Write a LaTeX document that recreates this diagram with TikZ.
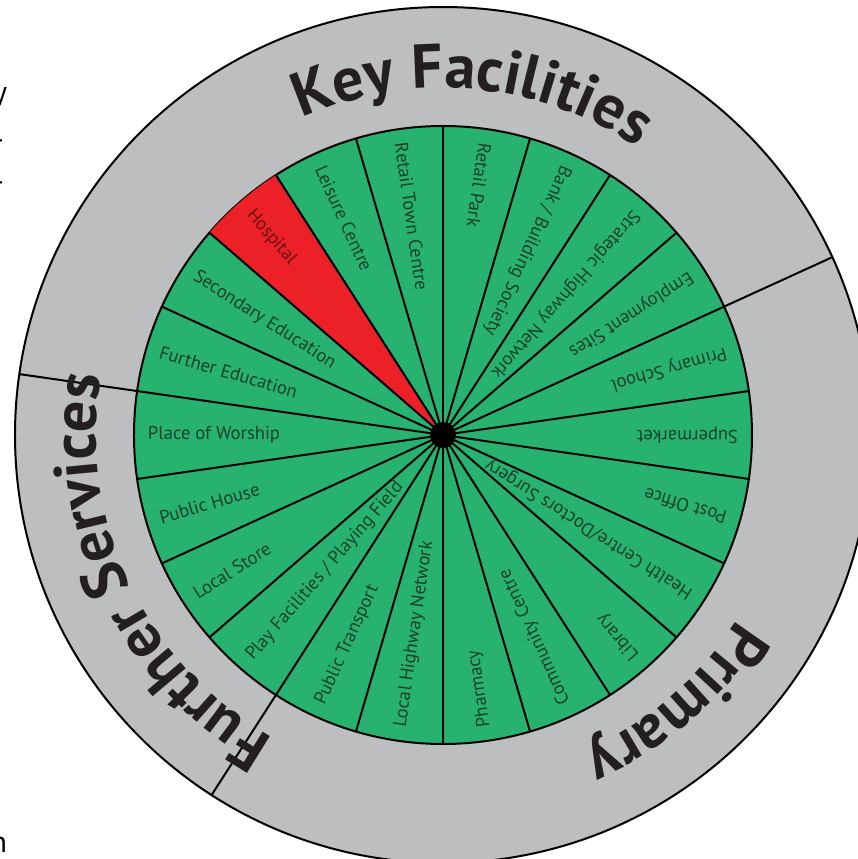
\documentclass[tikz,border=0pt]{standalone}
\usepackage{fontspec}
\setmainfont{PT Sans}
\usetikzlibrary{decorations.text}

\definecolor{ringgrey}{RGB}{189,190,192}
\definecolor{wedgegreen}{RGB}{39,179,111}
\definecolor{wedgered}{RGB}{236,32,39}
\definecolor{inkgreen}{RGB}{24,64,40}
\definecolor{inkred}{RGB}{105,20,22}
\definecolor{titleink}{RGB}{35,31,32}

\newcommand{\titlefont}{\bfseries\fontsize{31}{31}\selectfont}

\begin{document}
\begin{tikzpicture}[x=0.5pt, y=0.5pt, line width=1pt,
    lbl/.style = {anchor=west, inner sep=0pt, rotate=#1+180, text=inkgreen, font=\fontsize{9.3}{9.3}\selectfont},
    arctitle/.style = {decorate, decoration={text along path, text align=center, text color=titleink, text={|\titlefont|#1}}},
    stray/.style = {anchor=east, inner sep=0pt, font=\fontsize{15}{15}\selectfont}]

  % Frame
  \fill[white] (-443,-424) rectangle (415,435);
  \useasboundingbox (-443,-424) rectangle (415,435);

  % Rings and wedges
  \draw[fill=ringgrey] (0,0) circle[radius=428];
  \draw[fill=wedgegreen] (0,0) circle[radius=309];
  \fill[wedgered] (0,0) -- (122.73:309) arc[start angle=122.73, end angle=139.09, radius=309] -- cycle;
  \foreach \k in {0,...,21}
    \draw (0,0) -- ({90-\k*360/22}:309);
  \draw (24.55:309) -- (24.55:428);
  \draw (171.82:309) -- (171.82:428);
  \draw (237.27:309) -- (237.27:428);
  \fill (0,0) circle[radius=13];

  % Labels
  \node[lbl=81.82] (retailpark) at (81.82:296) {Retail Park};
  \node[lbl=65.45] (bank) at (65.45:296) {Bank / Building Society};
  \node[lbl=49.09] (strategic) at (49.09:296) {Strategic Highway Network};
  \node[lbl=32.73] (employment) at (32.73:296) {Employment Sites};
  \node[lbl=16.36] (primaryschool) at (16.36:296) {Primary School};
  \node[lbl=0] (supermarket) at (0:296) {Supermarket};
  \node[lbl=-16.36] (postoffice) at (-16.36:296) {Post Office};
  \node[lbl=-32.73] (health) at (-32.73:296) {Health Centre/Doctors Surgery};
  \node[lbl=-49.09] (library) at (-49.09:296) {Library};
  \node[lbl=-65.45] (community) at (-65.45:296) {Community Centre};
  \node[lbl=-81.82] (pharmacy) at (-81.82:296) {Pharmacy};
  \node[lbl=-98.18] (localhighway) at (-98.18:296) {Local Highway Network};
  \node[lbl=-114.55] (transport) at (-114.55:296) {Public Transport};
  \node[lbl=-130.91] (play) at (-130.91:296) {Play Facilities / Playing Field};
  \node[lbl=-147.27] (localstore) at (-147.27:296) {Local Store};
  \node[lbl=-163.64] (pub) at (-163.64:296) {Public House};
  \node[lbl=180] (worship) at (180:296) {Place of Worship};
  \node[lbl=163.64] (further) at (163.64:296) {Further Education};
  \node[lbl=147.27] (secondary) at (147.27:296) {Secondary Education};
  \node[lbl=130.91, text=inkred] (hospital) at (130.91:296) {Hospital};
  \node[lbl=114.55] (leisure) at (114.55:296) {Leisure Centre};
  \node[lbl=98.18] (retailtown) at (98.18:296) {Retail Town Centre};

  % Ring titles
  \path[arctitle=Key Facilities] (145:347) arc[start angle=145, end angle=25, radius=347];
  \path[arctitle=Primary] (11:347) arc[start angle=11, end angle=-109, radius=347];
  \path[arctitle=Further Services] (265.5:347) arc[start angle=265.5, end angle=145.5, radius=347];

  % Cut-off text at the left edge
  \node[stray] (cuty) at (-435,337) {y};
  \node[stray] (cutdasha) at (-438,290) {-};
  \node[stray] (cutdashb) at (-438,248) {-};
  \node[stray] (cutn) at (-435,-410) {n};

\end{tikzpicture}
\end{document}
